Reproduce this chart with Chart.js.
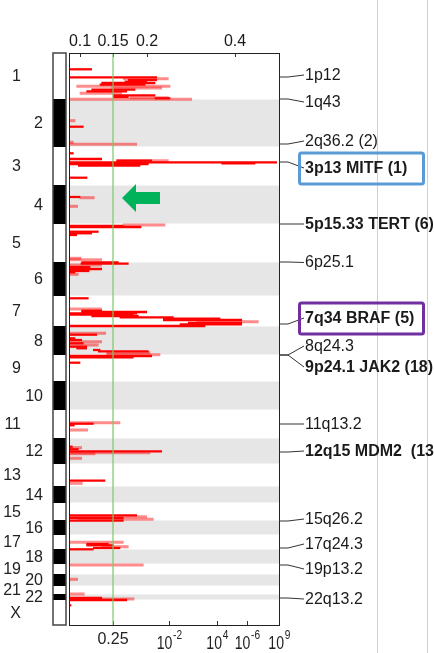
<!DOCTYPE html>
<html lang="en">
<head>
<meta charset="UTF-8">
<title>GISTIC amplification peaks</title>
<script src="https://cdn.jsdelivr.net/npm/chart.js"></script>
<style>
  body { margin: 0; background: #fff; }
  canvas { display: block; }
</style>
</head>
<body>
<canvas id="gistic" width="434" height="653"></canvas>
<script>
// chromosomes, top to bottom, with their start on the genome axis
const chromNames = ['1','2','3','4','5','6','7','8','9','10','11','12','13','14','15','16','17','18','19','20','21','22','X'];
const chromStart = [0,46,94,132,171,209,243,273,302,328,357,385,411,433,450,467,482,496,511,521,533,541,547];
const genomeEnd = 572;

// dark red q-value segments (genome position, score from, score to)
const strongPos  = [16.3,24.3,27,28.7,30,31.7,36.7,38.3,42.3,44,45.3,73.7,100.3,106,107.7,109.3,110.3,111,112.7,124.7,144,173,174,178.7,180.3,182,209.3,210.7,214,216,218,219.3,245.3,257.7,259,260.3,261.7,263,264.3,265.7,267,270,271.3,273,281.7,285.3,287,290.3,293.7,295.3,297,298.3,303,304.3,309.7,370.7,372.3,393.7,396.3,398.3,427.7,462.3,465,467.7,491,492.3,495,496.3,545,547,552.3];
const strongFrom = [0,0,59.3,56,32.7,31,22.7,17.7,44.3,44.3,86,0,0,0,47.7,0,152.7,0,9.3,0,0,0,0,0,0,1,12.7,12,0,0,0,1,0,12.7,12.7,1,1,22.7,51,94.3,94.3,119.3,111,0,0,0,1,0,0,7.7,24.3,29.3,0,0,0,0,0,0,0,0,0,0,0,0,17.7,17.7,24.3,0,0,0,0];
const strongTo   = [22.7,87.7,87.7,77.7,86,76,66,57.7,86,59.3,101,14.3,4.3,32.7,82.7,207.7,186,79.3,71,18,11,54.3,72,29.3,22.7,7.7,49.3,59.3,21,32.7,20,6,19.3,32.7,77.7,67.7,64.3,69.3,104.3,151,172.7,172.7,172.7,136,27.7,6,12.7,14.3,17.7,17.7,31,79.3,82.7,64.3,11,24.3,5.3,3.3,9.3,92.7,36,67.7,54.3,54.3,39.3,44.3,51,24.3,32.7,57.7,2];

// lighter (translucent) q-value segments
const faintPos  = [25.7,33.3,35,40.3,44.7,46.3,67.7,89.3,91.3,107.7,144.7,153.3,172,205.3,206.7,212,221.3,256,268.7,280.3,288.7,292,299.7,301.7,369.7,377,394.7,399.7,400.7,405.3,430.3,463.7,466.3,489.3,493.7,512,526.3,541,546];
const faintFrom = [54.3,7.7,42.7,11,61,0,1,1,0,47.7,11,1,54.3,0,0,0,1,0,127.7,1,0,1,37.7,37.7,0,0,0,0,0,0,0,0,9.3,0,32.7,0,0,0,0];
const faintTo   = [99.3,101,92.7,52.7,99.3,122.7,6,4.3,67.7,99.3,25.3,8.7,96,12,32.7,32.7,9.3,32.7,189.3,36.7,32.7,29.3,81,91,51,18.7,12.7,81,26,12.7,13.3,77.7,84.3,54.3,59.3,74.3,8.7,15.3,65];

// axis ticks: G-score on top, q-value below
const topTickPos = [11, 44, 78, 166];
const topTickLabels = ['0.1', '0.15', '0.2', '0.4'];
const bottomTickPos = [44, 100, 148, 178, 210];
const bottomTickBase = ['0.25', '10', '10', '10', '10'];
const bottomTickExp = ['', '-2', '4', '-6', '9'];
const qCutoff = 44;

// annotated peaks
const peakNames = ['1p12','1q43','2q36.2 (2)','3p13 MITF (1)','5p15.33 TERT (6)','6p25.1','7q34 BRAF (5)','8q24.3','9p24.1 JAK2 (18)','11q13.2','12q15 MDM2  (13)','15q26.2','17q24.3','19p13.2','22q13.2'];
const peakPos = [24, 46, 91, 109, 171, 209, 271, 302, 302, 371, 399, 468, 495, 512, 545];
const peakLabelPos = [22, 49, 88, 115, 171, 209.5, 265, 293, 314, 371, 398, 466, 491, 516, 546];
const peakBold = [0,0,0,1,1,0,1,0,1,0,1,0,0,0,0];
const peakBox = { 3: '#5b9bd5', 6: '#7030a0' };

const FONT = '"Liberation Sans", Arial, sans-serif';
Chart.defaults.font.family = FONT;

const seg = (pos, from, to) => pos.map((p, i) => ({ x: [from[i], to[i]], y: p }));

const decor = {
  id: 'decor',
  beforeDraw(chart) {
    const { ctx, chartArea: a } = chart;
    ctx.save();
    ctx.strokeStyle = '#d0d0d0';
    ctx.lineWidth = 1;
    [98, 148].forEach(d => {
      ctx.beginPath();
      ctx.moveTo(a.right + d + 0.5, 0);
      ctx.lineTo(a.right + d + 0.5, chart.height);
      ctx.stroke();
    });
    ctx.restore();
  },
  beforeDatasetsDraw(chart) {
    const { ctx, chartArea: a, scales: { y } } = chart;
    ctx.save();
    chromStart.forEach((s, i) => {
      const e = i + 1 < chromStart.length ? chromStart[i + 1] : genomeEnd;
      const y0 = y.getPixelForValue(s), y1 = y.getPixelForValue(e);
      if (i % 2 === 1) {
        ctx.fillStyle = '#e6e6e6';
        ctx.fillRect(a.left, y0 + 0.5, a.width, y1 - y0 - 1);
      }
    });
    ctx.restore();
  },
  afterDatasetsDraw(chart) {
    const { ctx, chartArea: a, scales: { x, y } } = chart;
    ctx.save();

    // q = 0.25 cutoff
    const gx = x.getPixelForValue(qCutoff);
    ctx.strokeStyle = 'rgba(120,200,100,0.8)';
    ctx.lineWidth = 1.5;
    ctx.beginPath();
    ctx.moveTo(gx, a.top);
    ctx.lineTo(gx, a.bottom);
    ctx.stroke();

    // ideogram and chromosome labels
    const ix = a.left - 16, iw = 13;
    ctx.font = '16px ' + FONT;
    ctx.textBaseline = 'middle';
    ctx.textAlign = 'right';
    chromStart.forEach((s, i) => {
      const e = i + 1 < chromStart.length ? chromStart[i + 1] : genomeEnd;
      const y0 = y.getPixelForValue(s), y1 = y.getPixelForValue(e);
      if (i % 2 === 1) {
        ctx.fillStyle = '#000';
        ctx.fillRect(ix, y0, iw, y1 - y0);
      }
      ctx.fillStyle = '#222';
      ctx.fillText(chromNames[i], i % 2 === 0 ? ix - 32 : ix - 10, (y0 + y1) / 2 + 1);
    });
    ctx.strokeStyle = '#444';
    ctx.lineWidth = 1.5;
    ctx.strokeRect(ix, a.top, iw, a.bottom - a.top);

    // plot frame
    ctx.strokeStyle = '#222';
    ctx.lineWidth = 1;
    ctx.strokeRect(a.left + 0.5, a.top + 0.5, a.width, a.height);

    // bottom q-value labels with exponents
    ctx.fillStyle = '#222';
    ctx.textAlign = 'left';
    bottomTickPos.forEach((v, i) => {
      const px = x.getPixelForValue(v);
      if (!bottomTickExp[i]) {
        ctx.font = '16px ' + FONT;
        ctx.textAlign = 'center';
        ctx.fillText(bottomTickBase[i], px, 640);
        ctx.textAlign = 'left';
        return;
      }
      ctx.save();
      ctx.font = '18px ' + FONT;
      const bw = ctx.measureText(bottomTickBase[i]).width;
      ctx.font = '13px ' + FONT;
      const ew = ctx.measureText(bottomTickExp[i]).width;
      const sx = 0.78;
      ctx.translate(px - (bw + ew) * sx / 2, 0);
      ctx.scale(sx, 1);
      ctx.font = '18px ' + FONT;
      ctx.fillText(bottomTickBase[i], 0, 644);
      ctx.font = '13px ' + FONT;
      ctx.fillText(bottomTickExp[i], bw + 1, 635);
      ctx.restore();
    });

    // green arrow pointing at the 4p region
    const tip = x.getPixelForValue(53), neck = x.getPixelForValue(67), tail = x.getPixelForValue(91);
    const ay = y.getPixelForValue(145);
    const hh = y.getPixelForValue(159) - ay, sh = y.getPixelForValue(151) - ay;
    ctx.fillStyle = '#00b35a';
    ctx.beginPath();
    ctx.moveTo(tip, ay);
    ctx.lineTo(neck, ay - hh);
    ctx.lineTo(neck, ay - sh);
    ctx.lineTo(tail, ay - sh);
    ctx.lineTo(tail, ay + sh);
    ctx.lineTo(neck, ay + sh);
    ctx.lineTo(neck, ay + hh);
    ctx.closePath();
    ctx.fill();

    // peak connectors and names
    ctx.textAlign = 'left';
    ctx.textBaseline = 'middle';
    peakNames.forEach((name, i) => {
      const y0 = y.getPixelForValue(peakPos[i]), y1 = y.getPixelForValue(peakLabelPos[i]);
      ctx.strokeStyle = '#333';
      ctx.lineWidth = 1;
      ctx.beginPath();
      ctx.moveTo(a.right, y0);
      ctx.lineTo(a.right + 9, y0);
      ctx.lineTo(a.right + 25, y1);
      ctx.stroke();
      ctx.fillStyle = '#1a1a1a';
      ctx.font = (peakBold[i] ? 'bold ' : '') + '16px ' + FONT;
      ctx.fillText(name, a.right + 26, y1 + 0.5);
      if (peakBox[i]) {
        ctx.strokeStyle = peakBox[i];
        ctx.lineWidth = 3;
        ctx.beginPath();
        ctx.roundRect(a.right + 20.5, y1 - 15, 124, 31, 2);
        ctx.stroke();
      }
    });
    ctx.restore();
  }
};

new Chart(document.getElementById('gistic'), {
  type: 'bar',
  data: {
    datasets: [
      {
        label: 'q-value',
        data: seg(strongPos, strongFrom, strongTo),
        backgroundColor: '#ff0000',
        barThickness: 1.6,
        grouped: false
      },
      {
        label: 'q-value (faint)',
        data: seg(faintPos, faintFrom, faintTo),
        backgroundColor: 'rgba(255,0,0,0.45)',
        barThickness: 2.4,
        grouped: false
      }
    ]
  },
  options: {
    indexAxis: 'y',
    responsive: false,
    animation: false,
    layout: { padding: { left: 69, right: 155, top: 0, bottom: 0 } },
    plugins: { legend: { display: false }, tooltip: { enabled: false } },
    scales: {
      y: { type: 'linear', reverse: true, min: 0, max: genomeEnd, offset: false, display: false },
      x: {
        type: 'linear', position: 'bottom', min: 0, max: 210,
        afterBuildTicks: s => { s.ticks = bottomTickPos.map(v => ({ value: v })); },
        afterFit: s => { s.height = 28; },
        ticks: { display: false },
        grid: { drawOnChartArea: false, tickLength: -4, color: '#333' },
        border: { display: false }
      },
      x2: {
        type: 'linear', position: 'top', min: 0, max: 210,
        afterBuildTicks: s => { s.ticks = topTickPos.map(v => ({ value: v })); },
        afterFit: s => { s.height = 53; },
        ticks: {
          callback: (v, i) => topTickLabels[i],
          font: { size: 16 }, color: '#1a1a1a', padding: 6,
          autoSkip: false, maxRotation: 0
        },
        grid: { drawOnChartArea: false, tickLength: -4, color: '#333' },
        border: { display: false }
      }
    }
  },
  plugins: [decor]
});
</script>
</body>
</html>
